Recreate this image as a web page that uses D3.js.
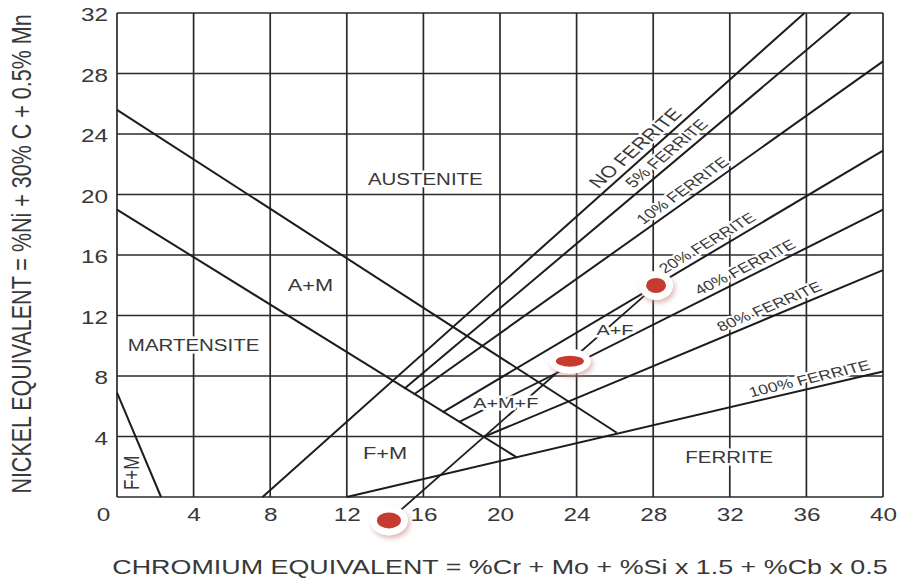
<!DOCTYPE html>
<html>
<head>
<meta charset="utf-8">
<script src="https://cdn.jsdelivr.net/npm/d3@7"></script>
<style>
  body { margin: 0; background: #fff; }
  svg text { font-family: "Liberation Sans", Arial, Helvetica, sans-serif; }
</style>
</head>
<body>
<svg id="chart" width="899" height="579"></svg>
<script>
// tick labels
const xTicks = [0, 4, 8, 12, 16, 20, 24, 28, 32, 36, 40];
const yTicks = [4, 8, 12, 16, 20, 24, 28, 32];

// martensite boundaries (Cr eq, Ni eq)
const martensiteLines = [
    { from: [0, 25.6], to: [26.1, 4.25] },
    { from: [0, 19.0], to: [20.9, 2.6] },
    { from: [0, 6.9], to: [2.3, 0] }
];

// iso-ferrite lines
const ferriteLines = [
    { label: "NO FERRITE", from: [7.6, 0], to: [35.9, 32] },
    { label: "5% FERRITE", from: [15.0, 7.15], to: [38.3, 32] },
    { label: "10% FERRITE", from: [15.5, 6.78], to: [40, 28.8] },
    { label: "20% FERRITE", from: [17.0, 5.6], to: [40, 22.9] },
    { label: "40% FERRITE", from: [17.85, 4.95], to: [40, 19.0] },
    { label: "80% FERRITE", from: [19.1, 3.95], to: [40, 15.0] },
    { label: "100% FERRITE", from: [12, 0], to: [40, 8.3] }
];
// Cr eq where each ferrite label begins, and its font size
const ferriteLabelStart = [25.4, 27.2, 27.7, 28.8, 30.6, 31.7, 33.2];
const ferriteLabelSize = [16.5, 14.5, 14, 13.8, 13.8, 13.8, 13.8];

// phase region names
const regionLabels = [
    { text: "AUSTENITE", at: [16.1, 21.0] },
    { text: "A+M", at: [10.1, 14.0] },
    { text: "MARTENSITE", at: [4.0, 10.05] },
    { text: "F+M", at: [14.0, 2.9] },
    { text: "A+M+F", at: [20.3, 6.25] },
    { text: "A+F", at: [26.0, 11.1] },
    { text: "FERRITE", at: [31.96, 2.64] }
];
const regionLabelSize = [16, 17, 16, 17, 15.5, 15.5, 16];
const verticalLabel = { text: "F+M", at: [0.72, 1.6] };

// weld points (base metal, mix, filler)
const weldPoints = [[14.2, -1.55], [23.65, 8.98], [28.15, 13.99]];
const weldDotSize = [[12, 8], [14, 5.5], [10, 7.5]];

const SX = 1.28;   // the original picture is stretched sideways
const ink = "#1c1c1c", txt = "#383838";

const svg = d3.select("#chart");

const x = d3.scaleLinear().domain([0, 40]).range([117, 883]);
const y = d3.scaleLinear().domain([0, 32]).range([497, 13]);

const defs = svg.append("defs");
const f = defs.append("filter").attr("id", "shadow")
    .attr("x", "-60%").attr("y", "-60%").attr("width", "220%").attr("height", "220%");
f.append("feDropShadow").attr("dx", 2).attr("dy", 3).attr("stdDeviation", 2.5)
    .attr("flood-color", "#c98a8a").attr("flood-opacity", 0.6);

// grid
const grid = svg.append("g").attr("stroke", "#2a2a2a").attr("stroke-width", 1.7);
grid.selectAll(".vx").data(xTicks).enter().append("line")
    .attr("x1", d => x(d)).attr("x2", d => x(d))
    .attr("y1", y(0)).attr("y2", y(32));
grid.selectAll(".hy").data([0].concat(yTicks)).enter().append("line")
    .attr("x1", x(0)).attr("x2", x(40))
    .attr("y1", d => y(d)).attr("y2", d => y(d));

// boundary lines
const lines = svg.append("g").attr("stroke", ink).attr("stroke-width", 2).attr("fill", "none");
lines.selectAll(".m").data(martensiteLines).enter().append("line")
    .attr("x1", d => x(d.from[0])).attr("y1", d => y(d.from[1]))
    .attr("x2", d => x(d.to[0])).attr("y2", d => y(d.to[1]));
lines.selectAll(".f").data(ferriteLines).enter().append("line")
    .attr("x1", d => x(d.from[0])).attr("y1", d => y(d.from[1]))
    .attr("x2", d => x(d.to[0])).attr("y2", d => y(d.to[1]));

// tie line through the weld points
svg.append("line")
    .attr("x1", x(weldPoints[0][0])).attr("y1", y(weldPoints[0][1]))
    .attr("x2", x(weldPoints[2][0])).attr("y2", y(weldPoints[2][1]))
    .attr("stroke", ink).attr("stroke-width", 1.8);

function knockout(sel) {
    return sel.attr("fill", txt)
        .attr("stroke", "#fff").attr("stroke-width", 5)
        .attr("stroke-linejoin", "round").attr("paint-order", "stroke");
}

// region names
regionLabels.forEach((d, i) => {
    const g = svg.append("g")
        .attr("transform", `translate(${x(d.at[0])},${y(d.at[1])}) scale(${SX},1)`);
    knockout(g.append("text"))
        .attr("text-anchor", "middle").attr("dy", "0.36em")
        .attr("font-size", regionLabelSize[i])
        .text(d.text);
});
{
    const g = svg.append("g")
        .attr("transform", `translate(${x(verticalLabel.at[0])},${y(verticalLabel.at[1])}) scale(${SX},1) rotate(-90)`);
    knockout(g.append("text"))
        .attr("text-anchor", "middle").attr("dy", "0.36em")
        .attr("font-size", 17).text(verticalLabel.text);
}

// ferrite labels along their lines
ferriteLines.forEach((d, i) => {
    const slope = (d.to[1] - d.from[1]) / (d.to[0] - d.from[0]);
    const cx = ferriteLabelStart[i];
    const cy = d.from[1] + slope * (cx - d.from[0]);
    const dxp = x(d.to[0]) - x(d.from[0]);
    const dyp = y(d.from[1]) - y(d.to[1]);
    const phi = Math.atan(SX * dyp / dxp) * 180 / Math.PI;
    const g = svg.append("g")
        .attr("transform", `translate(${x(cx)},${y(cy)}) scale(${SX},1) rotate(${-phi})`);
    knockout(g.append("text"))
        .attr("y", -5).attr("font-size", ferriteLabelSize[i])
        .attr("stroke-width", 4)
        .text(d.label);
});

// weld points
const dots = svg.append("g");
weldPoints.forEach((p, i) => {
    const [rx, ry] = weldDotSize[i];
    dots.append("ellipse")
        .attr("cx", x(p[0])).attr("cy", y(p[1]))
        .attr("rx", rx + 7).attr("ry", ry + 7)
        .attr("fill", "#fff").attr("filter", "url(#shadow)");
    dots.append("ellipse")
        .attr("cx", x(p[0])).attr("cy", y(p[1]))
        .attr("rx", rx).attr("ry", ry)
        .attr("fill", "#c73a30");
});

// axes
const xAxis = svg.append("g")
    .attr("transform", `translate(0,${y(0)})`)
    .call(d3.axisBottom(x).tickValues(xTicks).tickSize(0).tickPadding(11));
xAxis.select(".domain").remove();
xAxis.attr("font-family", null).attr("font-size", null);
xAxis.selectAll("text")
    .attr("font-size", 19).attr("fill", txt)
    .attr("transform", `scale(${SX},1)`)
    .attr("dx", d => d === 0 ? -11 : 0);

const yAxis = svg.append("g")
    .attr("transform", `translate(${x(0)},0)`)
    .call(d3.axisLeft(y).tickValues(yTicks).tickSize(0).tickPadding(7));
yAxis.select(".domain").remove();
yAxis.attr("font-family", null).attr("font-size", null);
yAxis.selectAll("text")
    .attr("font-size", 19).attr("fill", txt)
    .attr("transform", `scale(${SX},1)`)
    .attr("dy", "0.42em");

// axis titles
svg.append("g")
    .attr("transform", `translate(500,574) scale(${SX},1)`)
    .append("text")
    .attr("text-anchor", "middle").attr("font-size", 21).attr("fill", txt)
    .text("CHROMIUM EQUIVALENT = %Cr + Mo + %Si x 1.5 + %Cb x 0.5");

svg.append("g")
    .attr("transform", `translate(31,254) scale(${SX},1) rotate(-90)`)
    .append("text")
    .attr("text-anchor", "middle").attr("font-size", 21.5).attr("fill", txt)
    .text("NICKEL EQUIVALENT = %Ni + 30% C + 0.5% Mn");
</script>
</body>
</html>
